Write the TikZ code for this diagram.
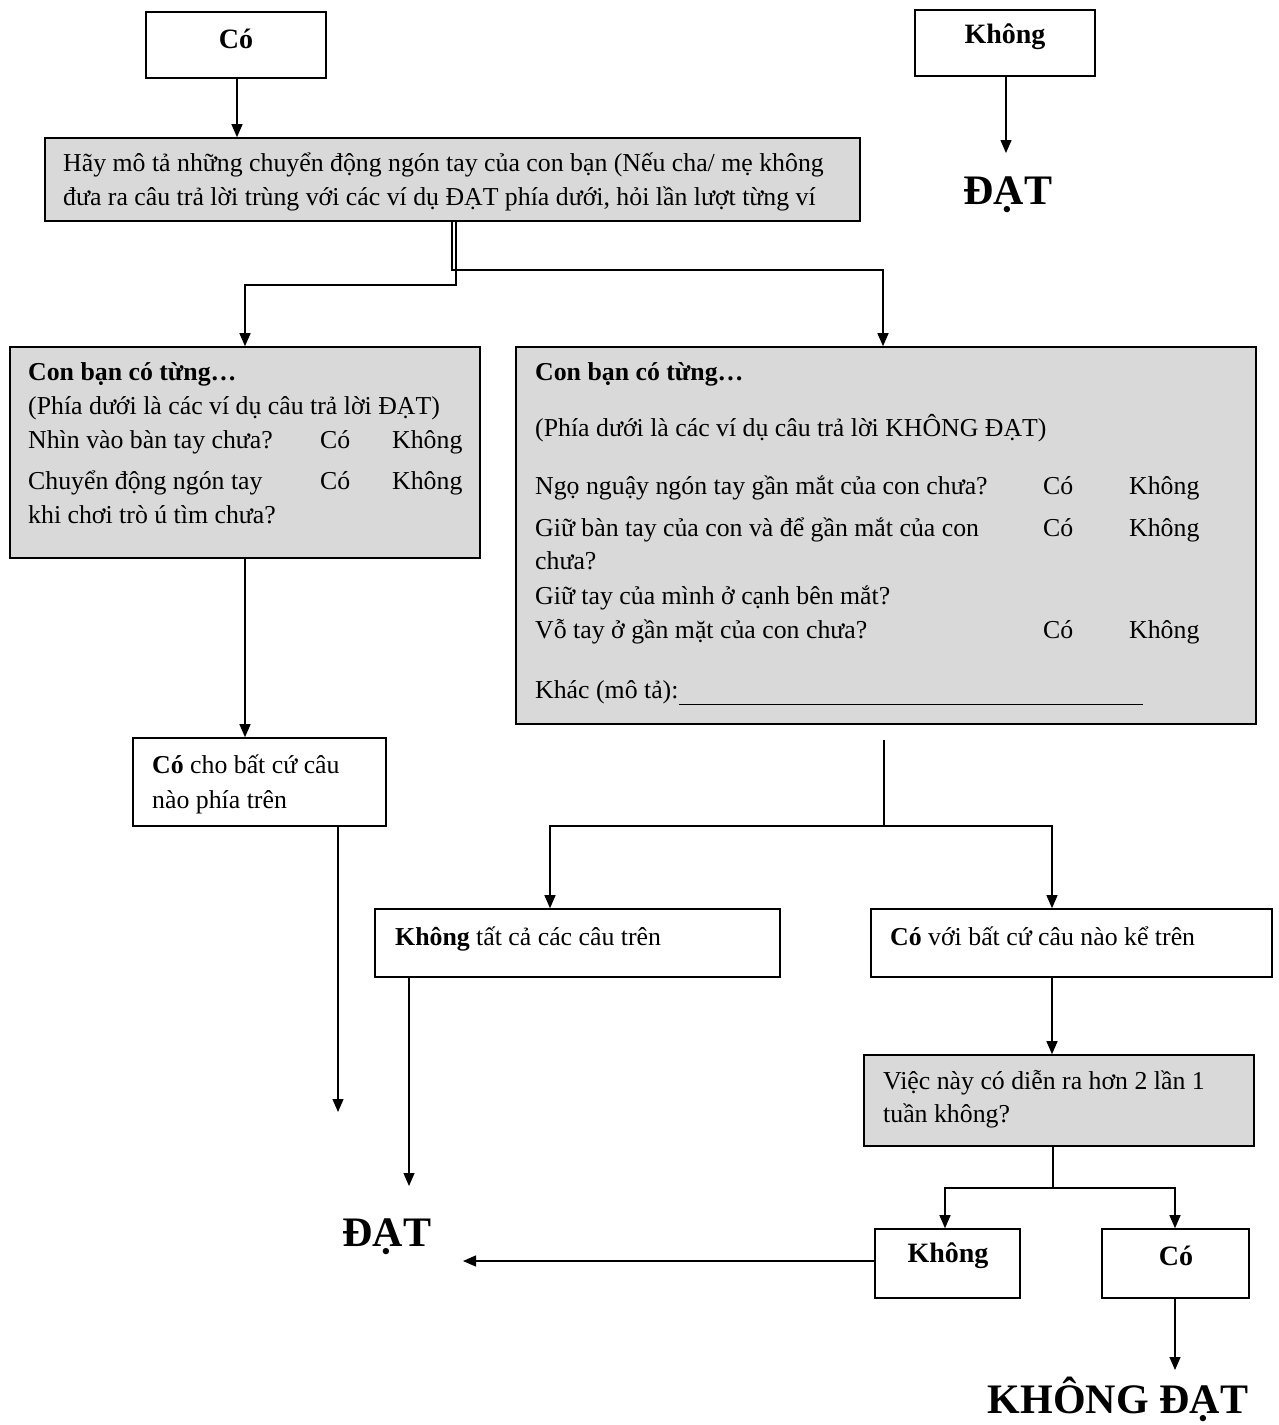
\documentclass[tikz,border=0pt]{standalone}
\usepackage{fontspec}
\setmainfont{Liberation Serif}
\usetikzlibrary{arrows.meta}
\definecolor{boxgray}{RGB}{217,217,217}
\begin{document}
\begin{tikzpicture}[x=1pt,y=-1pt,
 box/.style={draw, line width=1.6pt, inner sep=0pt},
 gbox/.style={box, fill=boxgray},
 arr/.style={line width=1.3pt, -{Triangle[width=11pt,length=13pt]}},
 ln/.style={line width=1.3pt},
 txt/.style={anchor=mid west, inner sep=0pt, yshift=-6pt, font=\fontsize{25.8}{30}\selectfont},
 btxt/.style={anchor=center, inner sep=0pt, font=\fontsize{28}{32}\selectfont\bfseries},
 big/.style={anchor=base, inner sep=0pt, font=\fontsize{42}{48}\selectfont\bfseries}]
\useasboundingbox[fill=white] (0,0) rectangle (1279,1425);

% boxes
\node[box, minimum width=180pt, minimum height=66pt] (co) at (236,45) {};
\node[box, minimum width=180pt, minimum height=66pt] (kh) at (1005,43) {};
\node[gbox, minimum width=815pt, minimum height=83pt] (main) at (452.5,179.5) {};
\node[gbox, minimum width=470pt, minimum height=211pt] (lbox) at (245,452.5) {};
\node[gbox, minimum width=740pt, minimum height=377pt] (rbox) at (886,535.5) {};
\node[box, minimum width=253pt, minimum height=88pt] (cobox) at (259.5,782) {};
\node[box, minimum width=405pt, minimum height=68pt] (khall) at (577.5,943) {};
\node[box, minimum width=401pt, minimum height=68pt] (coany) at (1071.5,943) {};
\node[gbox, minimum width=390pt, minimum height=91pt] (freq) at (1059,1100.5) {};
\node[box, minimum width=145pt, minimum height=69pt] (kh2) at (947.5,1263.5) {};
\node[box, minimum width=147pt, minimum height=69pt] (co2) at (1175.5,1263.5) {};

% texts
\node[btxt] (tco) at (236,39) {Có};
\node[btxt] (tkh) at (1005,37) {Không};
\node[big] (dat1) at (1008,204) {ĐẠT};
\node[big] (dat2) at (387,1246) {ĐẠT};
\node[big] (kdat) at (1118,1413) {KHÔNG ĐẠT};

\node[txt] (m1) at (63,163) {Hãy mô tả những chuyển động ngón tay của con bạn (Nếu cha/ mẹ không};
\node[txt] (m2) at (63,197) {đưa ra câu trả lời trùng với các ví dụ ĐẠT phía dưới, hỏi lần lượt từng ví};

\node[txt] (l1) at (28,372) {\bfseries Con bạn có từng…};
\node[txt] (l2) at (28,406) {(Phía dưới là các ví dụ câu trả lời ĐẠT)};
\node[txt] (l3) at (28,440) {Nhìn vào bàn tay chưa?};
\node[txt] (l3a) at (320,440) {Có};
\node[txt] (l3b) at (392,440) {Không};
\node[txt] (l4) at (28,481) {Chuyển động ngón tay};
\node[txt] (l4a) at (320,481) {Có};
\node[txt] (l4b) at (392,481) {Không};
\node[txt] (l5) at (28,515) {khi chơi trò ú tìm chưa?};

\node[txt] (r1) at (535,372) {\bfseries Con bạn có từng…};
\node[txt] (r2) at (535,428) {(Phía dưới là các ví dụ câu trả lời KHÔNG ĐẠT)};
\node[txt] (r3) at (535,486) {Ngọ nguậy ngón tay gần mắt của con chưa?};
\node[txt] (r3a) at (1043,486) {Có};
\node[txt] (r3b) at (1129,486) {Không};
\node[txt] (r4) at (535,528) {Giữ bàn tay của con và để gần mắt của con};
\node[txt] (r4a) at (1043,528) {Có};
\node[txt] (r4b) at (1129,528) {Không};
\node[txt] (r5) at (535,561) {chưa?};
\node[txt] (r6) at (535,596) {Giữ tay của mình ở cạnh bên mắt?};
\node[txt] (r7) at (535,630) {Vỗ tay ở gần mặt của con chưa?};
\node[txt] (r7a) at (1043,630) {Có};
\node[txt] (r7b) at (1129,630) {Không};
\node[txt] (r8) at (535,690) {Khác (mô tả):};
\coordinate (ulend) at (1143,704);
\draw[line width=1pt] (r8.east |- ulend) -- (ulend);

\node[txt] (c1) at (152,765) {{\bfseries Có} cho bất cứ câu};
\node[txt] (c2) at (152,800) {nào phía trên};
\node[txt] (ka) at (395,937) {{\bfseries Không} tất cả các câu trên};
\node[txt] (ca) at (890,937) {{\bfseries Có} với bất cứ câu nào kể trên};
\node[txt] (f1) at (883,1081) {Việc này có diễn ra hơn 2 lần 1};
\node[txt] (f2) at (883,1114) {tuần không?};
\node[btxt] (tkh2) at (948,1256) {Không};
\node[btxt] (tco2) at (1176,1256) {Có};

% connectors
\draw[arr] (co.south -| 237,0) -- (main.north -| 237,0);
\coordinate (d1end) at (1006,153);
\draw[arr] (kh.south -| 1006,0) -- (d1end);

\draw[arr] (main.south -| 452,0) |- (883,270) -- (rbox.north -| 883,0);
\draw[arr] (main.south -| 456,0) |- (245,285) -- (lbox.north -| 245,0);

\draw[arr] (lbox.south -| 245,0) -- (cobox.north -| 245,0);
\coordinate (e1) at (338,1112);
\draw[arr] (cobox.south -| 338,0) -- (e1);

\coordinate (rs) at (884,740);
\coordinate (rj) at (884,826);
\draw[ln] (rs) -- (rj);
\draw[arr] (rj) -| (khall.north -| 550,0);
\draw[arr] (rj) -| (coany.north -| 1052,0);

\coordinate (e2) at (409,1186);
\draw[arr] (khall.south -| 409,0) -- (e2);

\draw[arr] (coany.south -| 1052,0) -- (freq.north -| 1052,0);
\coordinate (fj) at (1053,1188);
\draw[ln] (freq.south -| 1053,0) -- (fj);
\draw[arr] (fj) -| (kh2.north -| 945,0);
\draw[arr] (fj) -| (co2.north -| 1175,0);

\coordinate (e3) at (463,1261);
\draw[arr] (kh2.west |- 0,1261) -- (e3);
\coordinate (e4) at (1175,1370);
\draw[arr] (co2.south -| 1175,0) -- (e4);
\end{tikzpicture}
\end{document}
